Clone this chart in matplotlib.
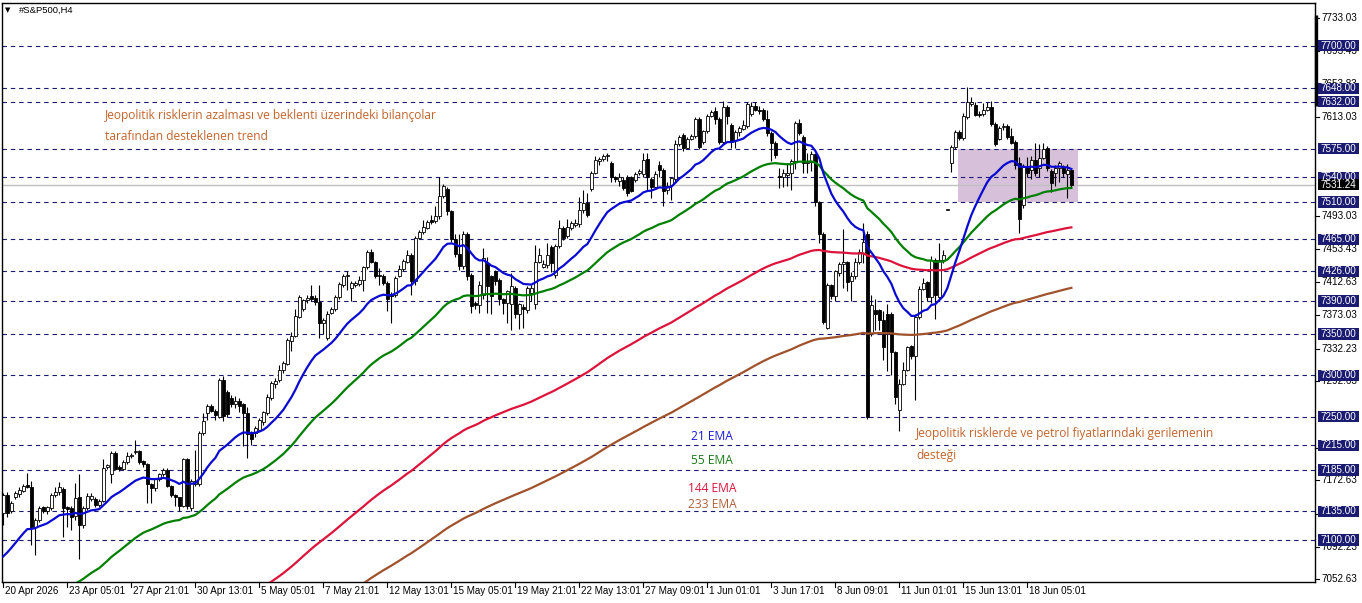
import matplotlib
matplotlib.use("Agg")
import matplotlib.pyplot as plt
import matplotlib.transforms as mtransforms
from matplotlib.patches import Rectangle
import numpy as np
import pandas as pd

# ---------------- data ----------------
opens = [7133,7155,7135,7152,7156,7160,7167,7165,7116,7125,7140,7136,7139,7155,7158,7162,7140,7139,7130,7152,
         7119,7139,7150,7150,7143,7148,7189,7180,7206,7189,7187,7195,7202,7207,7208,7196,7192,7168,7163,7174,
         7180,7185,7166,7155,7152,7141,7198,7139,7168,7168,7230,7254,7263,7257,7250,7294,7280,7273,7265,7269,
         7265,7254,7231,7230,7234,7243,7254,7272,7290,7294,7306,7314,7342,7348,7371,7380,7391,7396,7394,7389,
         7364,7345,7376,7380,7395,7410,7421,7406,7410,7411,7416,7431,7450,7437,7422,7421,7412,7399,7398,7421,
         7429,7438,7446,7414,7467,7474,7479,7488,7487,7493,7517,7526,7499,7465,7447,7433,7472,7422,7388,7385,
         7398,7436,7420,7426,7416,7392,7388,7387,7406,7375,7383,7379,7400,7386,7438,7432,7434,7456,7422,7457,
         7479,7469,7479,7482,7483,7500,7509,7526,7546,7560,7562,7566,7558,7540,7536,7537,7541,7540,7537,7545,
         7544,7562,7538,7529,7555,7549,7525,7531,7538,7580,7592,7576,7587,7590,7611,7583,7596,7615,7620,7611,
         7583,7625,7604,7585,7595,7599,7602,7617,7627,7622,7622,7611,7594,7582,7542,7540,7543,7546,7560,7606,
         7589,7558,7559,7568,7510,7472,7358,7409,7396,7424,7435,7437,7415,7420,7437,7448,7472,7351,7379,7379,
         7367,7375,7375,7328,7258,7290,7307,7335,7323,7371,7405,7413,7395,7440,7395,7440,7501,7557,7577,7595,
         7588,7613,7629,7628,7617,7617,7622,7626,7605,7587,7601,7603,7590,7583,7557,7506,7553,7549,7561,7552,
         7564,7576,7548,7545,7552,7552,7544,7549]
highs = [7157,7158,7147,7160,7165,7168,7181,7172,7127,7141,7142,7142,7157,7164,7171,7164,7141,7141,7169,7180,
         7141,7157,7157,7152,7150,7198,7193,7208,7208,7191,7197,7207,7206,7222,7210,7197,7194,7170,7176,7182,
         7188,7188,7167,7156,7153,7200,7200,7174,7209,7232,7254,7265,7265,7259,7297,7299,7282,7276,7275,7272,
         7267,7261,7233,7238,7248,7257,7277,7293,7297,7313,7317,7345,7352,7380,7397,7393,7397,7410,7397,7409,
         7369,7378,7383,7397,7413,7423,7427,7414,7414,7420,7433,7452,7453,7439,7430,7423,7414,7401,7420,7434,
         7441,7452,7448,7469,7476,7489,7488,7495,7505,7540,7532,7528,7501,7471,7472,7475,7474,7424,7390,7414,
         7455,7443,7422,7428,7418,7394,7404,7424,7408,7388,7386,7408,7410,7458,7455,7440,7460,7458,7459,7488,
         7481,7490,7487,7490,7516,7525,7521,7548,7566,7565,7568,7570,7560,7542,7545,7540,7543,7542,7547,7550,
         7570,7570,7540,7548,7560,7551,7535,7541,7585,7591,7594,7589,7593,7613,7613,7598,7617,7622,7625,7613,
         7633,7628,7606,7598,7603,7610,7632,7631,7632,7627,7624,7622,7596,7584,7552,7550,7558,7562,7609,7611,
         7591,7570,7572,7570,7512,7474,7412,7411,7428,7437,7477,7439,7425,7442,7453,7485,7475,7398,7392,7381,
         7378,7387,7377,7330,7295,7316,7336,7337,7375,7408,7418,7415,7445,7442,7460,7452,7502,7579,7598,7597,
         7618,7650,7638,7631,7620,7630,7632,7633,7607,7603,7606,7605,7600,7585,7565,7556,7565,7566,7582,7580,
         7582,7578,7550,7555,7560,7555,7556,7552]
lows = [7119,7128,7133,7150,7152,7158,7163,7094,7082,7122,7133,7132,7137,7152,7155,7104,7116,7112,7125,7077,
        7115,7137,7147,7140,7140,7146,7187,7170,7185,7184,7185,7193,7200,7205,7192,7189,7145,7145,7160,7172,
        7178,7164,7153,7141,7136,7140,7138,7135,7166,7166,7228,7246,7255,7246,7248,7245,7250,7262,7260,7255,
        7214,7200,7215,7225,7232,7240,7252,7270,7285,7292,7303,7312,7329,7346,7369,7378,7388,7390,7385,7345,
        7350,7343,7374,7378,7393,7407,7404,7390,7407,7408,7402,7429,7436,7418,7410,7410,7378,7363,7395,7419,
        7427,7436,7398,7410,7465,7472,7477,7484,7485,7490,7515,7495,7462,7443,7428,7429,7416,7376,7381,7376,
        7392,7376,7374,7410,7385,7375,7363,7355,7370,7356,7358,7376,7390,7380,7436,7430,7430,7425,7418,7455,
        7464,7467,7476,7480,7480,7497,7492,7524,7544,7555,7560,7560,7535,7534,7530,7525,7518,7522,7535,7543,
        7540,7525,7515,7526,7540,7505,7520,7513,7535,7578,7572,7574,7585,7588,7575,7580,7594,7613,7605,7580,
        7580,7605,7576,7576,7590,7597,7600,7614,7620,7617,7608,7590,7560,7563,7527,7528,7530,7525,7550,7592,
        7545,7545,7548,7505,7460,7362,7356,7393,7390,7420,7406,7402,7390,7417,7435,7436,7247,7348,7355,7355,
        7318,7305,7300,7265,7232,7288,7305,7320,7270,7368,7403,7390,7388,7368,7393,7436,7500,7547,7575,7586,
        7586,7611,7627,7614,7613,7615,7620,7603,7578,7585,7598,7587,7580,7550,7473,7503,7540,7538,7542,7540,
        7562,7548,7522,7530,7535,7540,7515,7528]
closes = [7155,7133,7145,7157,7161,7166,7165,7116,7125,7139,7136,7140,7155,7159,7164,7139,7138,7128,7151,7119,
          7139,7154,7154,7143,7148,7188,7191,7206,7187,7186,7195,7202,7203,7208,7195,7193,7168,7163,7174,7180,
          7185,7166,7155,7152,7141,7198,7141,7172,7172,7230,7245,7263,7257,7252,7294,7251,7253,7265,7269,7263,
          7254,7229,7223,7236,7246,7255,7274,7291,7293,7307,7315,7343,7348,7372,7395,7391,7394,7393,7389,7364,
          7367,7375,7380,7395,7411,7421,7422,7412,7412,7416,7431,7450,7438,7420,7420,7412,7392,7396,7418,7429,
          7439,7446,7414,7467,7474,7480,7486,7486,7493,7518,7530,7499,7465,7447,7433,7472,7420,7384,7385,7410,
          7442,7408,7396,7414,7392,7388,7402,7408,7375,7386,7381,7406,7406,7438,7446,7435,7446,7436,7457,7479,
          7466,7480,7485,7485,7500,7509,7494,7546,7561,7562,7566,7567,7540,7538,7540,7527,7521,7524,7544,7548,
          7561,7540,7529,7544,7549,7523,7530,7539,7581,7589,7576,7587,7590,7611,7577,7596,7615,7619,7611,7583,
          7625,7615,7583,7595,7600,7604,7629,7627,7622,7621,7611,7594,7582,7567,7541,7545,7546,7560,7606,7594,
          7558,7559,7569,7510,7472,7365,7409,7396,7426,7435,7437,7413,7420,7437,7450,7462,7250,7385,7375,7367,
          7334,7351,7328,7274,7290,7307,7334,7323,7371,7405,7412,7395,7440,7397,7440,7446,7501,7577,7595,7588,
          7614,7632,7632,7616,7616,7622,7626,7605,7581,7600,7603,7589,7582,7555,7490,7553,7545,7561,7545,7564,
          7574,7552,7533,7552,7557,7545,7549,7531.24]

# EMA starting values (indicator state before the first visible bar)
ema21_seed = 7073
ema55_seed = 6950
ema144_seed = 6815
ema233_seed = 6800

levels = [7700, 7648, 7632, 7575, 7540, 7510, 7465, 7426, 7390, 7350, 7300, 7250, 7215, 7185, 7135, 7100]
axis_ticks = [7733.03, 7693.43, 7653.83, 7613.03, 7493.03, 7453.43, 7412.63, 7373.03,
              7332.23, 7292.63, 7212.43, 7172.63, 7132.43, 7092.23, 7052.63]
current_price = 7531.24
date_tick_bars = [0, 16, 32, 48, 64, 80, 96, 112, 128, 144, 160, 176, 192, 208, 224, 240, 256]
date_labels = ["20 Apr 2026", "23 Apr 05:01", "27 Apr 21:01", "30 Apr 13:01", "5 May 05:01", "7 May 21:01",
               "12 May 13:01", "15 May 05:01", "19 May 21:01", "22 May 13:01", "27 May 09:01", "1 Jun 01:01",
               "3 Jun 17:01", "8 Jun 09:01", "11 Jun 01:01", "15 Jun 13:01", "18 Jun 05:01"]
zone_bars = (238.75, 268.75)
zone_prices = (7510, 7575)

# ---------------- figure ----------------
W, H = 1362, 603
fig = plt.figure(figsize=(W / 100, H / 100), dpi=100)
fig.patch.set_facecolor("white")
L, R, T, B = 2, 1315, 3, 582
ax = fig.add_axes([L / W, 1 - B / H, (R - L) / W, (B - T) / H])
ax.set_xlim(-0.325, 327.9)
ax.set_ylim(7049.35, 7751.59)
ax.set_xticks([])
ax.set_yticks([])
for s in ax.spines.values():
    s.set_color("black")
    s.set_linewidth(1.0)

n = len(closes)
x = np.arange(n)
o = np.array(opens, float)
h = np.array(highs, float)
l = np.array(lows, float)
c = np.array(closes, float)

navy = "#1b1b72"

# zone rectangle
ax.add_patch(Rectangle((zone_bars[0], zone_prices[0]), zone_bars[1] - zone_bars[0],
                       zone_prices[1] - zone_prices[0], facecolor="#d7c0d9", edgecolor="none", zorder=0))

# horizontal levels
for lv in levels:
    ax.axhline(lv, color=navy, lw=0.8, ls=(0, (4, 3.5)), zorder=1)
ax.axhline(current_price, color="#c0c0c0", lw=1.0, zorder=1)

# candles
ax.vlines(x, l, h, color="black", lw=0.8, zorder=3)
bottoms = np.minimum(o, c)
heights = np.maximum(np.abs(c - o), 0.4)
faces = np.where(c >= o, "white", "black")
ax.bar(x, heights, bottom=bottoms, width=0.72, color=faces, edgecolor="black", linewidth=0.6, zorder=4)

# EMAs
def ema(seed, span):
    s = pd.Series([seed] + list(c))
    return s.ewm(span=span, adjust=False).mean().values[1:]

ax.plot(x, ema(ema233_seed, 233), color="#a0522d", lw=1.6, zorder=5)
ax.plot(x, ema(ema144_seed, 144), color="#dc143c", lw=1.6, zorder=5)
ax.plot(x, ema(ema55_seed, 55), color="#008000", lw=1.6, zorder=5)
ax.plot(x, ema(ema21_seed, 21), color="#0a0ad2", lw=1.6, zorder=5)

# ---------------- right price axis ----------------
trans = mtransforms.blended_transform_factory(ax.transAxes, ax.transData)
px = 1.0 / (R - L)  # one pixel in axes fraction
ppu = (B - T) / (7751.59 - 7049.35)  # pixels per price unit
afont = dict(family="Liberation Sans", fontsize=7.1)
for t in axis_ticks:
    ax.plot([1.0, 1.0 + 4 * px], [t, t], transform=trans, color="black", lw=0.8, clip_on=False, zorder=6)
    ax.text(1.0 + 6 * px, t, f"{t:.2f}", transform=trans, ha="left", va="center",
            color="black", clip_on=False, zorder=6, **afont)
box_h = 11.5 / ppu
for lv in levels:
    ax.add_patch(Rectangle((1.0 + 3 * px, lv - box_h / 2), 41 * px, box_h, transform=trans,
                           facecolor=navy, edgecolor="none", clip_on=False, zorder=7))
    ax.text(1.0 + 5.5 * px, lv, f"{lv:.2f}", transform=trans, ha="left", va="center",
            color="white", clip_on=False, zorder=8, **afont)
ax.add_patch(Rectangle((1.0 + 3 * px, current_price - box_h / 2), 41 * px, box_h, transform=trans,
                       facecolor="black", edgecolor="none", clip_on=False, zorder=7))
ax.text(1.0 + 5.5 * px, current_price, f"{current_price:.2f}", transform=trans, ha="left", va="center",
        color="white", clip_on=False, zorder=8, **afont)
ax.plot([1.0 + 1 * px, 1.0 + 1 * px], [7737, 7627], transform=trans, color="black", lw=2.4,
        clip_on=False, zorder=6, solid_capstyle="butt")

# ---------------- date axis ----------------
transx = mtransforms.blended_transform_factory(ax.transData, ax.transAxes)
pyx = 1.0 / (B - T)
for b, lab in zip(date_tick_bars, date_labels):
    ax.plot([b, b], [0, -5 * pyx], transform=transx, color="black", lw=0.8, clip_on=False)
    ax.text(b + 0.4, -9.5 * pyx, lab, transform=transx, ha="left", va="center", color="black",
            clip_on=False, **afont)

# ---------------- texts ----------------
def fxy(xp, yp):
    return xp / W, 1 - yp / H

fig.text(*fxy(5, 10), "\u25bc", fontsize=5, family="DejaVu Sans", va="center", ha="left")
fig.text(*fxy(19, 10), "#S&P500,H4", fontsize=6.8, family="Liberation Sans", va="center", ha="left")

tfont = dict(family="Open Sans", fontsize=8.65)
note_col = "#c4652e"
fig.text(*fxy(105, 116), "Jeopolitik risklerin azalması ve beklenti üzerindeki bilançolar", color=note_col,
         va="center", ha="left", **tfont)
fig.text(*fxy(105, 137), "tarafından desteklenen trend", color=note_col, va="center", ha="left", **tfont)
fig.text(*fxy(916, 433), "Jeopolitik risklerde ve petrol fiyatlarındaki gerilemenin", color=note_col,
         va="center", ha="left", **tfont)
fig.text(*fxy(916, 455), "desteği", color=note_col, va="center", ha="left", **tfont)

fig.text(*fxy(712, 437), "21 EMA", color="#1c1cd8", va="center", ha="center", **tfont)
fig.text(*fxy(712, 460), "55 EMA", color="#1a7a1a", va="center", ha="center", **tfont)
fig.text(*fxy(712, 488), "144 EMA", color="#e0143c", va="center", ha="center", **tfont)
fig.text(*fxy(712, 504), "233 EMA", color="#b0603a", va="center", ha="center", **tfont)

fig.savefig("out.png", dpi=100, facecolor="white")
